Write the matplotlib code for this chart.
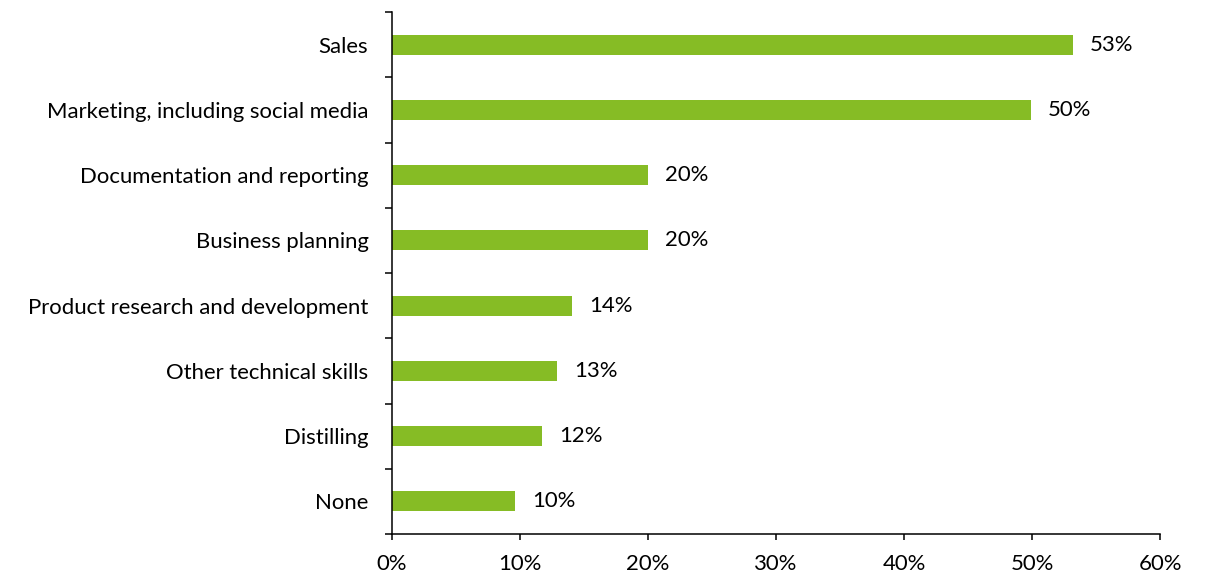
import matplotlib
matplotlib.use("Agg")
import matplotlib.pyplot as plt
from matplotlib.ticker import FixedLocator, PercentFormatter

plt.rcParams['font.family'] = ['Lato', 'DejaVu Sans']

categories = [
    "Sales",
    "Marketing, including social media",
    "Documentation and reporting",
    "Business planning",
    "Product research and development",
    "Other technical skills",
    "Distilling",
    "None",
]
shares = [53.2, 49.9, 20.0, 20.0, 14.1, 12.9, 11.7, 9.6]
x_ticks = [0, 10, 20, 30, 40, 50, 60]

bar_color = "#86BC25"
FS = 15.9

fig = plt.figure(figsize=(12.1, 5.76), dpi=100)
ax = fig.add_axes([392 / 1210, 1 - 534 / 576, (1160 - 392) / 1210, (534 - 12) / 576])

pos = list(range(len(categories)))
bars = ax.barh(pos, shares, height=0.31, color=bar_color)

for rect, v in zip(bars, shares):
    ax.annotate(f"{v:.0f}%", xy=(rect.get_width(), rect.get_y() + rect.get_height() / 2),
                xytext=(12.2, 0), textcoords="offset points",
                ha="left", va="center", fontsize=FS, color="#000000")

ax.set_xlim(0, 60)
ax.set_ylim(len(categories) - 0.5, -0.5)

ax.set_xticks(x_ticks)
ax.xaxis.set_major_formatter(PercentFormatter(decimals=0))
ax.tick_params(axis="x", direction="out", length=4.5, width=1.1, pad=10, labelsize=FS)

ax.set_yticks(pos)
ax.set_yticklabels(categories)
ax.tick_params(axis="y", which="major", length=0, pad=17, labelsize=FS)
ax.yaxis.set_minor_locator(FixedLocator([p - 0.5 for p in pos] + [len(pos) - 0.5]))
ax.tick_params(axis="y", which="minor", direction="out", length=5, width=1.1)

for side in ("top", "right"):
    ax.spines[side].set_visible(False)
for side in ("left", "bottom"):
    ax.spines[side].set_linewidth(1.1)
    ax.spines[side].set_color("#000000")

fig.savefig("out.png", dpi=100)
